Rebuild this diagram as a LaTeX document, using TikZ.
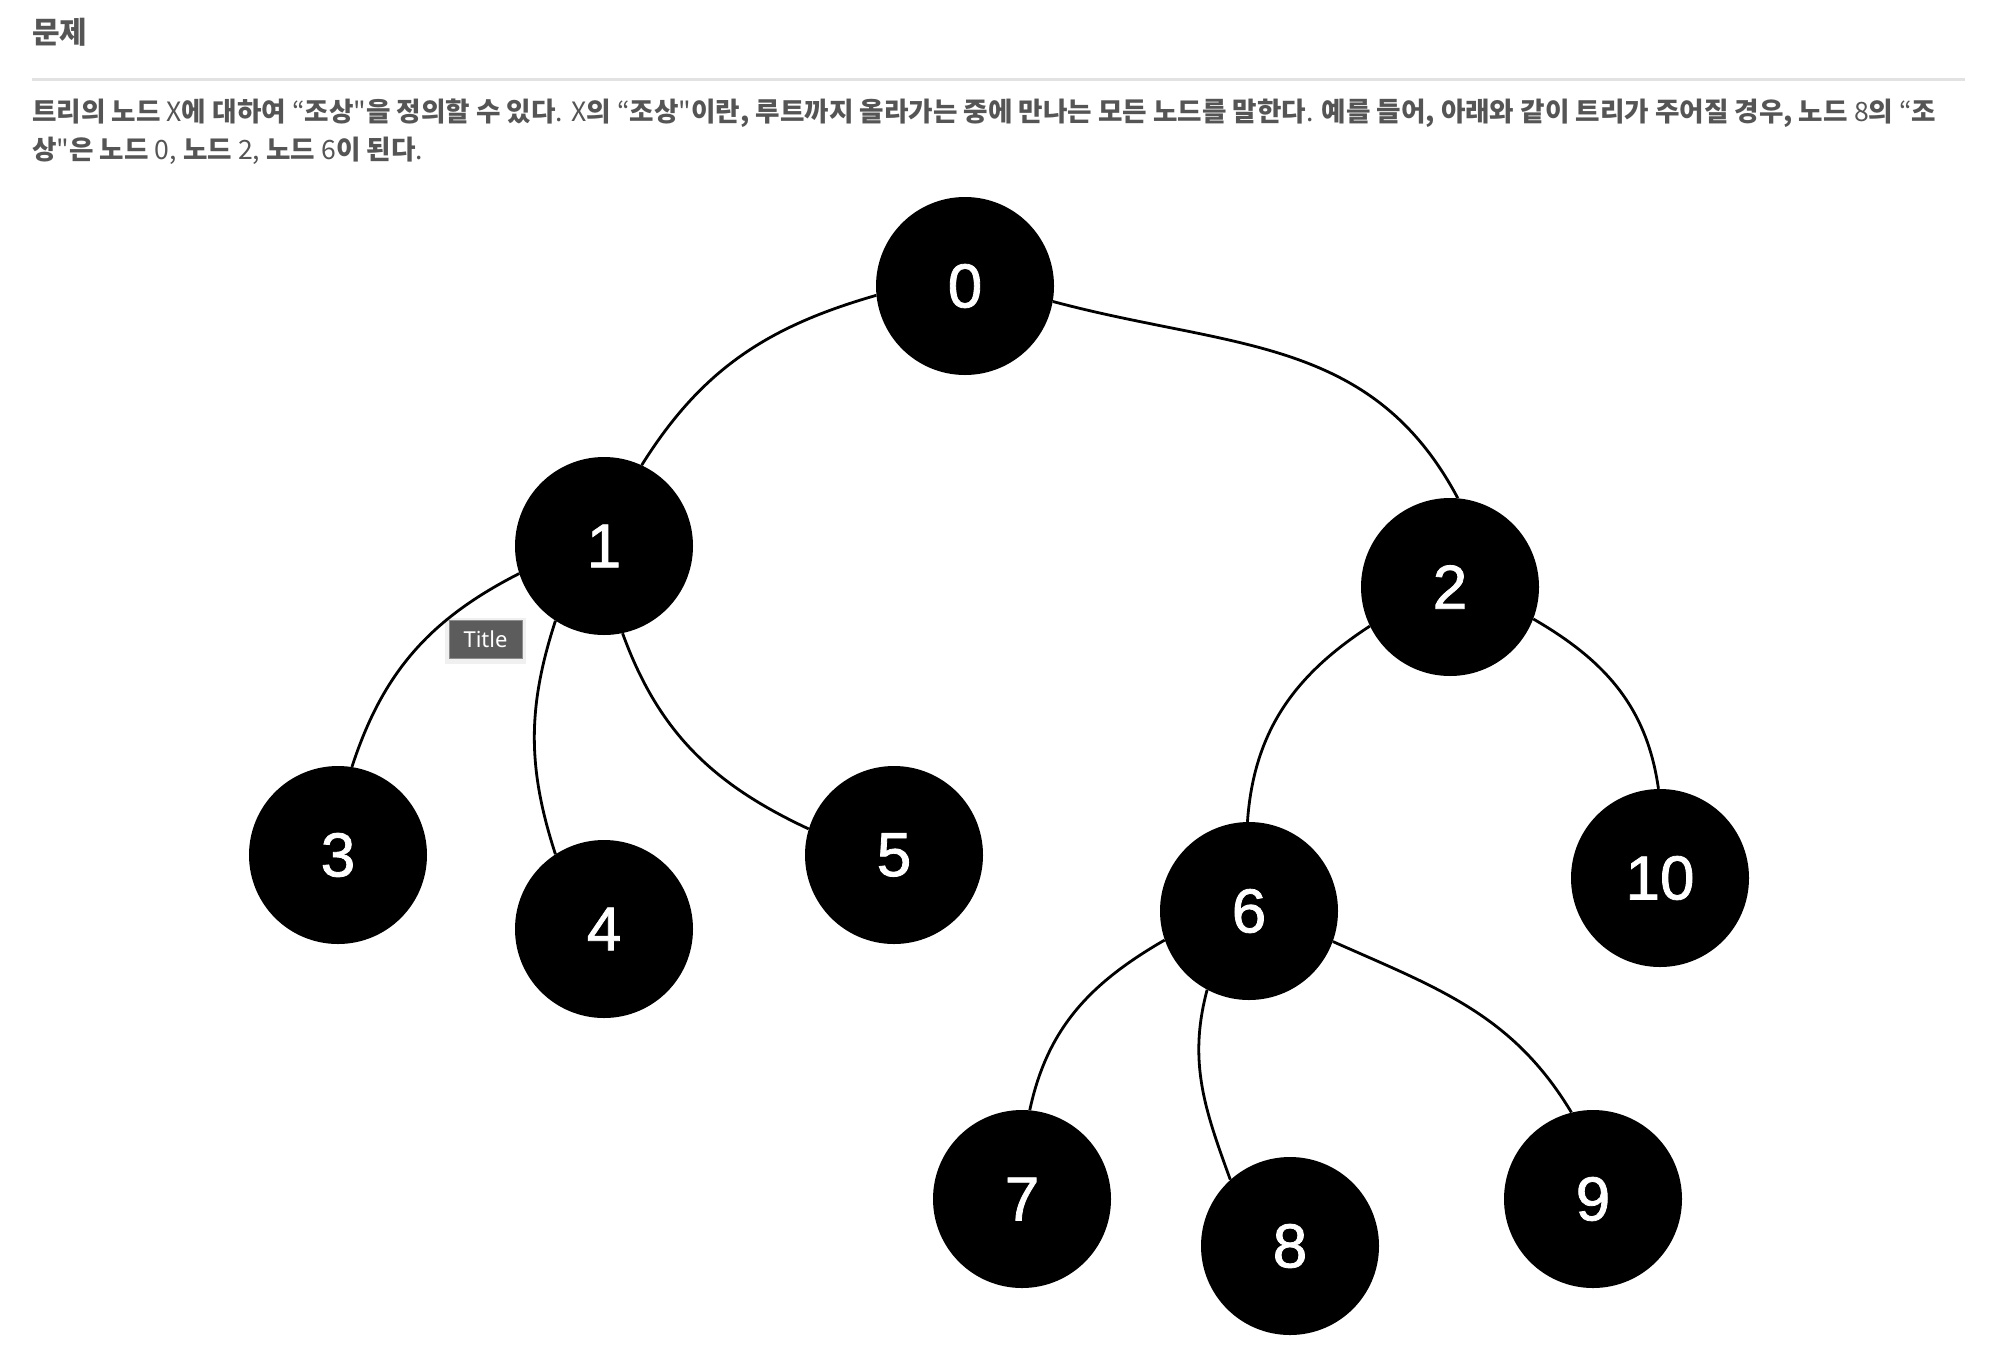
\documentclass[tikz,border=0pt]{standalone}
\usepackage{fontspec}
\setmainfont{Noto Sans CJK KR}
\newfontfamily\krfont{Noto Sans CJK KR}
\newfontfamily\numfont[FakeBold=1.3]{Liberation Sans}
\newfontfamily\tipfont{Noto Sans}
\newcommand{\lat}[1]{{\mdseries #1}}
\definecolor{txtgray}{HTML}{555555}
\definecolor{rulegray}{HTML}{E2E2E2}
\definecolor{tipgray}{HTML}{5C5C5C}
\begin{document}
\begin{tikzpicture}[x=1pt,y=1pt,
  tnode/.style={circle,fill=black,draw=none,minimum size=178pt,inner sep=0pt,
    text=white,font=\numfont\fontsize{62}{62}\selectfont},
  link/.style={line width=2.8pt,black},
  body/.style={anchor=base west,inner sep=0pt,text=txtgray,
    font=\krfont\bfseries\fontsize{26.6}{30}\selectfont}]
\useasboundingbox[fill=white] (0,0) rectangle (2010,-1358);
% header
\node[anchor=base west,inner sep=0pt,text=txtgray,font=\krfont\bfseries\fontsize{30}{36}\selectfont] (hdr) at (32,-43) {문제};
\draw[rulegray,line width=3pt] (32,-79) -- (1965,-79);
\node[body] (l1) at (32,-121) {트리의 노드 \lat{X}에 대하여 \lat{“}조상\lat{"}을 정의할 수 있다\lat{.} \lat{X}의 \lat{“}조상\lat{"}이란, 루트까지 올라가는 중에 만나는 모든 노드를 말한다\lat{.} 예를 들어, 아래와 같이 트리가 주어질 경우, 노드 \lat{8}의 \lat{“}조};
\node[body] (l2) at (32,-159) {상\lat{"}은 노드 \lat{0,} 노드 \lat{2,} 노드 \lat{6}이 된다\lat{.}};
% tree nodes
\node[tnode] (n0) at (965,-286) {0};
\node[tnode] (n1) at (604,-546) {1};
\node[tnode] (n2) at (1450,-587) {2};
\node[tnode] (n3) at (338,-855) {3};
\node[tnode] (n4) at (604,-929) {4};
\node[tnode] (n5) at (894,-855) {5};
\node[tnode] (n6) at (1249,-911) {6};
\node[tnode] (n10) at (1660,-878) {10};
\node[tnode] (n7) at (1022,-1199) {7};
\node[tnode] (n8) at (1290,-1246) {8};
\node[tnode] (n9) at (1593,-1199) {9};
% links
\draw[link] (n0.186) to[out=196,in=58] (n1.65);
\draw[link] (n0.-10) to[out=-15,in=118,looseness=1.05] (n2.85);
\draw[link] (n1.198) to[out=207,in=72] (n3.81);
\draw[link] (n1.237) to[out=252,in=108] (n4.123);
\draw[link] (n1.282) to[out=290,in=155] (n5.163);
\draw[link] (n2.206) to[out=213,in=86] (n6.91);
\draw[link] (n2.339) to[out=-30,in=98] (n10.91);
\draw[link] (n6.199) to[out=210,in=78] (n7.85);
\draw[link] (n6.242) to[out=255,in=110] (n8.132);
\draw[link] (n6.-20) to[out=-24,in=121] (n9.104);
% tooltip
\fill[black,opacity=0.06] (445,-618) rectangle (526,-664);
\node[draw=black!45,line width=0.8pt,fill=tipgray,text=white,inner sep=0pt,
  minimum width=73pt,minimum height=38pt,font=\tipfont\fontsize{22}{22}\selectfont] (tip) at (485.5,-639) {Title};
\end{tikzpicture}
\end{document}
